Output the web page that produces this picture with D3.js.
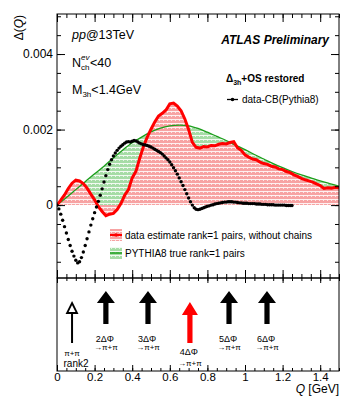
<!DOCTYPE html>
<html>
<head>
<meta charset="utf-8">
<script src="https://cdn.jsdelivr.net/npm/d3@7"></script>
<style>
  body { margin: 0; background: #fff; }
  text { font-family: "Liberation Sans", Arial, sans-serif; }
</style>
</head>
<body>
<svg id="chart" width="357" height="396"></svg>
<script>
// ---- data ----
// red: data estimate rank=1 pairs, bins of 0.02 GeV starting at Q=0
var redStep = 0.02;
var redVals = [0, 0.00013, 0.00027, 0.00044, 0.00058, 0.00066, 0.00064, 0.00057, 0.00045, 0.00029,
  0.00014, -0.00004, -0.00017, -0.00028, -0.00024, -0.00022, -0.00012, 0.00004, 0.00026, 0.00041,
  0.00072, 0.00090, 0.00124, 0.00155, 0.00180, 0.00201, 0.00220, 0.00236, 0.00243, 0.00252,
  0.00268, 0.00270, 0.00262, 0.00250, 0.00228, 0.00200, 0.00166, 0.00153, 0.00151, 0.00155,
  0.00154, 0.00158, 0.00157, 0.00161, 0.00163, 0.00162, 0.00166, 0.00168, 0.00152, 0.00145,
  0.00133, 0.00127, 0.00122, 0.00120, 0.00114, 0.00110, 0.00108, 0.00103, 0.00101, 0.00096,
  0.00094, 0.00089, 0.00086, 0.00080, 0.00076, 0.00071, 0.00067, 0.00064, 0.00061, 0.00056,
  0.00052, 0.00044, 0.00046, 0.00045, 0.00047, 0.00046];

// green: PYTHIA8 true rank=1 pairs, every 0.05 GeV
var greenStep = 0.05;
var greenVals = [0, 0.00020, 0.00041, 0.00062, 0.00083, 0.00103, 0.00125, 0.00146, 0.00165, 0.00180,
  0.00194, 0.00204, 0.00210, 0.00212, 0.00210, 0.00203, 0.00193, 0.00182, 0.00171, 0.00159,
  0.00147, 0.00134, 0.00122, 0.00110, 0.00099, 0.00089, 0.00080, 0.00072, 0.00064, 0.00057, 0.00050];

// black: data-CB(Pythia8), every 0.01 GeV
var blackStep = 0.01;
var blackVals = [0, -0.00010, -0.00024, -0.00040, -0.00057, -0.00074, -0.00091, -0.00107, -0.00122, -0.00135,
  -0.00146, -0.00153, -0.00150, -0.00139, -0.00124, -0.00107, -0.00089, -0.00071, -0.00053, -0.00036,
  -0.00020, -0.00005, 0.00010, 0.00026, 0.00043, 0.00061, 0.00078, 0.00094, 0.00108, 0.00120,
  0.00130, 0.00138, 0.00145, 0.00151, 0.00156, 0.00160, 0.00164, 0.00167, 0.00168, 0.00167,
  0.00169, 0.00171, 0.00170, 0.00167, 0.00164, 0.00162, 0.00160, 0.00159, 0.00158, 0.00156,
  0.00154, 0.00151, 0.00148, 0.00145, 0.00142, 0.00139, 0.00135, 0.00130, 0.00125, 0.00120,
  0.00114, 0.00107, 0.00099, 0.00091, 0.00082, 0.00072, 0.00062, 0.00052, 0.00041, 0.00030,
  0.00019, 0.00009, 0.00000, -0.00007, -0.00011, -0.00012, -0.00011, -0.00009, -0.00007, -0.00005,
  -0.00003, -0.00002, 0.00000, 0.00001, 0.00003, 0.00004, 0.00005, 0.00006, 0.00007, 0.00008,
  0.00008, 0.00009, 0.00009, 0.00009, 0.00008, 0.00008, 0.00007, 0.00006, 0.00006, 0.00005,
  0.00005, 0.00005, 0.00004, 0.00004, 0.00004, 0.00004, 0.00003, 0.00003, 0.00003, 0.00002,
  0.00002, 0.00002, 0.00001, 0.00001, 0.00001, 0.00001, 0, 0, 0, 0,
  0, 0, -0.00001, -0.00001, -0.00001, -0.00001];

// arrows in the lower panel
var arrowQ = [0.08, 0.26, 0.484, 0.707, 0.915, 1.117];
var arrowKind = ["open", "black", "black", "red", "black", "black"];
var arrowLine1 = ["\u03c0+\u03c0", "2\u0394\u03a6", "3\u0394\u03a6", "4\u0394\u03a6", "5\u0394\u03a6", "6\u0394\u03a6"];
var arrowLine2 = ["rank2", "\u2192\u03c0+\u03c0", "\u2192\u03c0+\u03c0", "\u2192\u03c0+\u03c0", "\u2192\u03c0+\u03c0", "\u2192\u03c0+\u03c0"];

var xTicks = [0, 0.2, 0.4, 0.6, 0.8, 1, 1.2, 1.4];
var yTicks = [0, 0.002, 0.004];

// ---- layout ----
var padL = 57, padR = 339, padT = 14, padMid = 278, padB = 371;
var svg = d3.select("#chart");

var x = d3.scaleLinear().domain([0, 1.5]).range([padL, padR]);
var y = d3.scaleLinear().domain([-0.00193, 0.00506]).range([padMid, padT]);

// hatch patterns
var defs = svg.append("defs");
function hatch(id, col) {
  var p = defs.append("pattern").attr("id", id).attr("patternUnits", "userSpaceOnUse")
    .attr("width", 4).attr("height", 4);
  p.append("rect").attr("width", 4).attr("height", 4).attr("fill", col);
  p.append("rect").attr("y", 3).attr("width", 4).attr("height", 1).attr("fill", "#fff").attr("opacity", 0.85);
  p.append("rect").attr("x", 3).attr("y", 0).attr("width", 1).attr("height", 1).attr("fill", "#fff").attr("opacity", 0.7);
}
hatch("redHatch", "#f7a3a3");
hatch("greenHatch", "#a6dca6");

defs.append("clipPath").attr("id", "plotClip").append("rect")
  .attr("x", padL).attr("y", padT).attr("width", padR - padL).attr("height", padMid - padT);

var red = redVals.map(function (v, i) { return { q: i * redStep, v: v }; });
var green = greenVals.map(function (v, i) { return { q: i * greenStep, v: v }; });
var black = blackVals.map(function (v, i) { return { q: i * blackStep, v: v }; });

var plot = svg.append("g").attr("clip-path", "url(#plotClip)");

var area = d3.area().x(function (d) { return x(d.q); }).y0(y(0)).y1(function (d) { return y(d.v); });
var line = d3.line().x(function (d) { return x(d.q); }).y(function (d) { return y(d.v); });

plot.append("path").datum(green).attr("d", area.curve(d3.curveMonotoneX)).attr("fill", "url(#greenHatch)");
plot.append("path").datum(red).attr("d", area.curve(d3.curveLinear)).attr("fill", "url(#redHatch)");
plot.append("path").datum(green).attr("d", line.curve(d3.curveMonotoneX))
  .attr("fill", "none").attr("stroke", "#1a9e1a").attr("stroke-width", 1.3);
plot.append("path").datum(red).attr("d", line.curve(d3.curveLinear))
  .attr("fill", "none").attr("stroke", "#ff0000").attr("stroke-width", 3).attr("stroke-linejoin", "miter");

plot.selectAll("circle.cb").data(black).enter().append("circle")
  .attr("class", "cb")
  .attr("cx", function (d) { return x(d.q); })
  .attr("cy", function (d) { return y(d.v); })
  .attr("r", 1.7)
  .attr("fill", "#000");

// ---- axes ----
function styleAxis(g) {
  g.select(".domain").remove();
  g.selectAll("line").attr("stroke", "#000").attr("stroke-width", 1);
  g.selectAll("text").attr("fill", "#000").style("font-family", "Liberation Sans, Arial, sans-serif");
}
var yMinor = d3.range(-0.0015, 0.0051, 0.0005);
var xMinor = d3.range(0, 1.51, 0.05);

svg.append("g").attr("transform", "translate(" + padL + ",0)")
  .call(d3.axisLeft(y).tickValues(yMinor).tickSize(-4).tickFormat("")).call(styleAxis);
svg.append("g").attr("transform", "translate(" + padL + ",0)")
  .call(d3.axisLeft(y).tickValues(yTicks).tickSize(-8).tickPadding(4)
    .tickFormat(function (d) { return d === 0 ? "0" : d3.format(".3f")(d); }))
  .call(styleAxis).selectAll("text").style("font-size", "12px");
svg.append("g").attr("transform", "translate(" + padR + ",0)")
  .call(d3.axisRight(y).tickValues(yMinor).tickSize(-4).tickFormat("")).call(styleAxis);
svg.append("g").attr("transform", "translate(" + padR + ",0)")
  .call(d3.axisRight(y).tickValues(yTicks).tickSize(-8).tickFormat("")).call(styleAxis);

// x ticks on every horizontal frame line (all pointing inward)
function xTickRow(yPos, down, majorLen, minorLen) {
  svg.append("g").attr("transform", "translate(0," + yPos + ")")
    .call((down ? d3.axisBottom(x) : d3.axisTop(x)).tickValues(xMinor).tickSize(minorLen).tickFormat(""))
    .call(styleAxis);
  svg.append("g").attr("transform", "translate(0," + yPos + ")")
    .call((down ? d3.axisBottom(x) : d3.axisTop(x)).tickValues(xTicks).tickSize(majorLen).tickFormat(""))
    .call(styleAxis);
}
xTickRow(padT, true, 8, 4);
xTickRow(padMid, false, 8, 4);
xTickRow(padMid, true, 5, 3);
xTickRow(padB, false, 6, 3);

// bottom tick labels
svg.append("g").attr("transform", "translate(0," + padB + ")")
  .call(d3.axisBottom(x).tickValues(xTicks).tickSize(0).tickPadding(2)
    .tickFormat(function (d) { return String(d); }))
  .call(styleAxis).selectAll("text").style("font-size", "11.5px");

// frames
svg.append("rect").attr("x", padL).attr("y", padT).attr("width", padR - padL).attr("height", padMid - padT)
  .attr("fill", "none").attr("stroke", "#000").attr("stroke-width", 1);
svg.append("rect").attr("x", padL).attr("y", padMid).attr("width", padR - padL).attr("height", padB - padMid)
  .attr("fill", "none").attr("stroke", "#000").attr("stroke-width", 1);

// axis titles
svg.append("text").attr("transform", "translate(23," + (padT + 1) + ") rotate(-90)")
  .attr("text-anchor", "end").style("font-size", "12px")
  .html("\u0394(<tspan font-style='italic'>Q</tspan>)");
svg.append("text").attr("x", padR).attr("y", 393).attr("text-anchor", "end").style("font-size", "12px")
  .html("<tspan font-style='italic'>Q</tspan> [GeV]");

// ---- labels in the top panel ----
svg.append("text").attr("x", 72).attr("y", 39).style("font-size", "12.5px")
  .html("<tspan font-style='italic'>pp</tspan>@13TeV");
svg.append("text").attr("x", 72).attr("y", 67).style("font-size", "12.5px").text("N");
svg.append("text").attr("x", 81).attr("y", 60).style("font-size", "8px").style("font-style", "italic").text("ev");
svg.append("text").attr("x", 81).attr("y", 70).style("font-size", "8px").text("ch");
svg.append("text").attr("x", 90).attr("y", 67).style("font-size", "12.5px").text("<40");
svg.append("text").attr("x", 72).attr("y", 94).style("font-size", "12.5px")
  .html("M<tspan font-size='8px' dy='3'>3h</tspan><tspan dy='-3'>&lt;1.4GeV</tspan>");

svg.append("text").attr("x", 329).attr("y", 44).attr("text-anchor", "end")
  .style("font-size", "12px").style("font-weight", "bold").style("font-style", "italic")
  .text("ATLAS Preliminary");
svg.append("text").attr("x", 226).attr("y", 82).style("font-size", "10px").style("font-weight", "bold")
  .html("\u0394<tspan font-size='7px' dy='3'>3h</tspan><tspan dy='-3'>+OS restored</tspan>");

// black legend entry
svg.append("line").attr("x1", 227).attr("x2", 238).attr("y1", 99.5).attr("y2", 99.5)
  .attr("stroke", "#000").attr("stroke-width", 1.3);
svg.append("circle").attr("cx", 232.5).attr("cy", 99.5).attr("r", 1.8).attr("fill", "#000");
svg.append("text").attr("x", 242).attr("y", 103).style("font-size", "10px").text("data-CB(Pythia8)");

// lower legend
svg.append("rect").attr("x", 110).attr("y", 229).attr("width", 12).attr("height", 12).attr("fill", "url(#redHatch)");
svg.append("line").attr("x1", 110).attr("x2", 122).attr("y1", 235).attr("y2", 235).attr("stroke", "#f00").attr("stroke-width", 2);
svg.append("circle").attr("cx", 116).attr("cy", 235).attr("r", 1.8).attr("fill", "#f00");
svg.append("text").attr("x", 125).attr("y", 239).style("font-size", "10px").text("data estimate rank=1 pairs, without chains");
svg.append("rect").attr("x", 110).attr("y", 247).attr("width", 12).attr("height", 12).attr("fill", "url(#greenHatch)");
svg.append("line").attr("x1", 110).attr("x2", 122).attr("y1", 253).attr("y2", 253).attr("stroke", "#1a9e1a").attr("stroke-width", 1.5);
svg.append("text").attr("x", 125).attr("y", 257).style("font-size", "10px").text("PYTHIA8 true rank=1 pairs");

// ---- arrows ----
var arrowStyle = {
  black: { tip: 291, base: 303, end: 324, head: 9, shaft: 2.6, fill: "#000", l1: 342, l2: 350 },
  red:   { tip: 302, base: 315, end: 343, head: 8, shaft: 2.6, fill: "#f00", l1: 355, l2: 366 },
  open:  { tip: 303, base: 313, end: 343, head: 5, shaft: 1, fill: "#fff", l1: 356, l2: 367 }
};
var arrows = svg.append("g");
arrowQ.forEach(function (q, i) {
  var s = arrowStyle[arrowKind[i]], cx = x(q);
  if (arrowKind[i] === "open") {
    arrows.append("line").attr("x1", cx).attr("x2", cx).attr("y1", s.base).attr("y2", s.end)
      .attr("stroke", "#000").attr("stroke-width", 2);
    arrows.append("path")
      .attr("d", "M" + cx + "," + s.tip + "L" + (cx + s.head) + "," + s.base + "L" + (cx - s.head) + "," + s.base + "Z")
      .attr("fill", "#fff").attr("stroke", "#000").attr("stroke-width", 1.8);
  } else {
    arrows.append("path")
      .attr("d", "M" + cx + "," + s.tip + "L" + (cx + s.head) + "," + s.base + "L" + (cx + s.shaft) + "," + s.base +
        "L" + (cx + s.shaft) + "," + s.end + "L" + (cx - s.shaft) + "," + s.end + "L" + (cx - s.shaft) + "," + s.base +
        "L" + (cx - s.head) + "," + s.base + "Z")
      .attr("fill", s.fill);
  }
  var small = arrowKind[i] === "open";
  arrows.append("text").attr("x", cx + (small ? 0 : -1)).attr("y", s.l1).attr("text-anchor", "middle")
    .style("font-size", small ? "8px" : "9px").text(arrowLine1[i]);
  arrows.append("text").attr("x", cx + (small ? 4 : 0)).attr("y", s.l2).attr("text-anchor", "middle")
    .style("font-size", small ? "10px" : "8px").text(arrowLine2[i]);
});
</script>
</body>
</html>
